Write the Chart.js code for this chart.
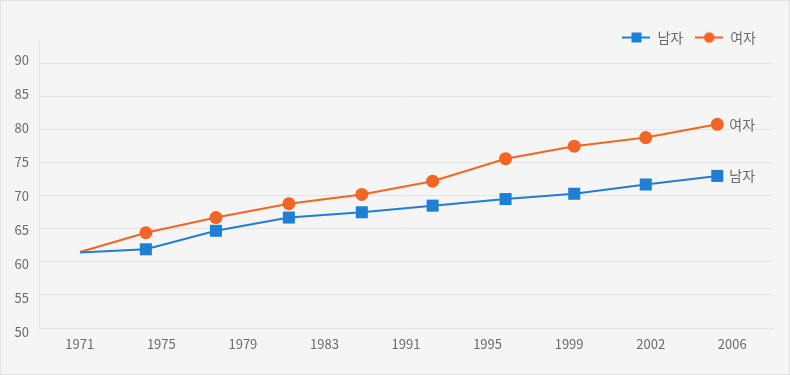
<!DOCTYPE html>
<html lang="ko">
<head>
  <meta charset="UTF-8">
  <title>남자 여자</title>
  <script src="https://cdn.jsdelivr.net/npm/chart.js"></script>
  <style>
    html, body {
      margin: 0;
      padding: 0;
      background: #f5f5f5;
    }
    .wrap {
      box-sizing: border-box;
      width: 790px;
      height: 375px;
      border: 1px solid #e2e2e2;
      background: #f5f5f5;
    }
    canvas {
      display: block;
    }
  </style>
</head>
<body>
  <div class="wrap">
    <canvas id="chartCanvas" width="788" height="373"></canvas>
  </div>

  <script>
    // x 축 눈금 라벨
    const yearLabels = ['1971', '1975', '1979', '1983', '1991', '1995', '1999', '2002', '2006'];
    // 점 위치
    const pointPos = [0, 0.93, 1.92, 2.95, 3.98, 4.98, 6.01, 6.98, 7.99, 9];
    const maleValues = [61.4, 61.9, 64.7, 66.7, 67.5, 68.5, 69.5, 70.3, 71.7, 73.0];
    const femaleValues = [61.5, 64.4, 66.7, 68.8, 70.2, 72.2, 75.6, 77.5, 78.8, 80.8];
    const yTicks = [50, 55, 60, 65, 70, 75, 80, 85, 90];

    const BLUE = '#1e7fd4';
    const ORANGE = '#f26522';
    const TEXT = '#6b6b6b';
    const GRID = '#e4e4e4';
    const FONT = "'Noto Sans CJK KR', 'Noto Sans', sans-serif";

    Chart.defaults.font.family = FONT;
    Chart.defaults.font.size = 13;
    Chart.defaults.color = TEXT;

    function legendIcon(color, style) {
      const c = document.createElement('canvas');
      c.width = 28;
      c.height = 14;
      const g = c.getContext('2d');
      g.strokeStyle = color;
      g.lineWidth = 2;
      g.beginPath();
      g.moveTo(0, 7);
      g.lineTo(28, 7);
      g.stroke();
      g.fillStyle = color;
      if (style === 'rect') {
        g.fillRect(9, 2, 10, 10);
      } else {
        g.beginPath();
        g.arc(14, 7, 5.3, 0, Math.PI * 2);
        g.fill();
      }
      return c;
    }

    function toPoints(values) {
      return values.map((v, i) => ({ x: pointPos[i], y: v }));
    }

    function radii(values, r) {
      return values.map((v, i) => (i === 0 ? 0 : r));
    }

    // 범례가 차트 영역 위쪽과 겹치도록 높이를 줄이고, 그릴 때는 잘리지 않게 한다
    const legendFit = {
      id: 'legendFit',
      beforeInit(chart) {
        const fit = chart.legend.fit;
        chart.legend.fit = function () {
          fit.call(this);
          this.height = 22.5;
          this.lineWidths = this.lineWidths.map(w => w + 5);
        };
      },
      afterLayout(chart) {
        chart.legend.bottom = chart.legend.top + 40;
        chart.legend.height = 40;
      }
    };

    const endLabels = {
      id: 'endLabels',
      afterDatasetsDraw(chart) {
        const ctx = chart.ctx;
        ctx.save();
        ctx.font = '14px ' + FONT;
        ctx.fillStyle = TEXT;
        ctx.textBaseline = 'middle';
        ctx.textAlign = 'left';
        chart.data.datasets.forEach((ds, i) => {
          const meta = chart.getDatasetMeta(i);
          const last = meta.data[meta.data.length - 1];
          ctx.fillText(ds.label, last.x + 12, last.y);
        });
        ctx.restore();
      }
    };

    const icons = [legendIcon(BLUE, 'rect'), legendIcon(ORANGE, 'circle')];

    new Chart(document.getElementById('chartCanvas').getContext('2d'), {
      type: 'line',
      data: {
        datasets: [
          {
            label: '남자',
            data: toPoints(maleValues),
            xAxisID: 'xp',
            borderColor: BLUE,
            backgroundColor: BLUE,
            borderWidth: 2,
            tension: 0,
            pointStyle: 'rect',
            pointRadius: radii(maleValues, 8.5),
            pointHoverRadius: radii(maleValues, 8.5),
            pointBorderWidth: 0
          },
          {
            label: '여자',
            data: toPoints(femaleValues),
            xAxisID: 'xp',
            borderColor: ORANGE,
            backgroundColor: ORANGE,
            borderWidth: 2,
            tension: 0,
            pointStyle: 'circle',
            pointRadius: radii(femaleValues, 6.5),
            pointHoverRadius: radii(femaleValues, 6.5),
            pointBorderWidth: 0
          }
        ]
      },
      options: {
        responsive: false,
        animation: false,
        layout: { padding: { top: 17.5, right: 16, bottom: 0, left: 0 } },
        plugins: {
          tooltip: { enabled: false },
          legend: {
            position: 'top',
            align: 'end',
            labels: {
              usePointStyle: true,
              pointStyleWidth: 28,
              padding: 12,
              color: TEXT,
              font: { size: 14 },
              generateLabels(chart) {
                return chart.data.datasets.map((ds, i) => ({
                  text: ds.label,
                  pointStyle: icons[i],
                  fillStyle: ds.borderColor,
                  strokeStyle: ds.borderColor,
                  lineWidth: 0,
                  fontColor: TEXT,
                  hidden: false,
                  datasetIndex: i
                }));
              }
            }
          }
        },
        scales: {
          x: {
            type: 'category',
            labels: yearLabels,
            offset: true,
            grid: { display: false, drawTicks: false },
            border: { display: true, color: GRID },
            ticks: { padding: 8, color: TEXT, maxRotation: 0, autoSkip: false },
            afterFit(axis) { axis.height = 46; }
          },
          xp: {
            type: 'linear',
            display: false,
            min: -0.579,
            max: 9.787
          },
          // 가로 격자선용 축
          y: {
            position: 'left',
            min: 50,
            max: 93.4,
            grid: { color: GRID, drawTicks: false },
            border: { display: true, color: GRID },
            ticks: { display: false },
            afterBuildTicks(axis) { axis.ticks = yTicks.map(v => ({ value: v })); },
            afterFit(axis) { axis.width = 0; }
          },
          // 눈금 숫자용 축 (원본에서 숫자 간격이 격자보다 조금 넓음)
          yl: {
            position: 'left',
            min: 50.59,
            max: 92.87,
            grid: { display: false, drawTicks: false },
            border: { display: false },
            ticks: { padding: 10, color: TEXT },
            afterBuildTicks(axis) { axis.ticks = yTicks.map(v => ({ value: v })); },
            afterFit(axis) { axis.width = 38; }
          }
        }
      },
      plugins: [legendFit, endLabels]
    });
  </script>
</body>
</html>
